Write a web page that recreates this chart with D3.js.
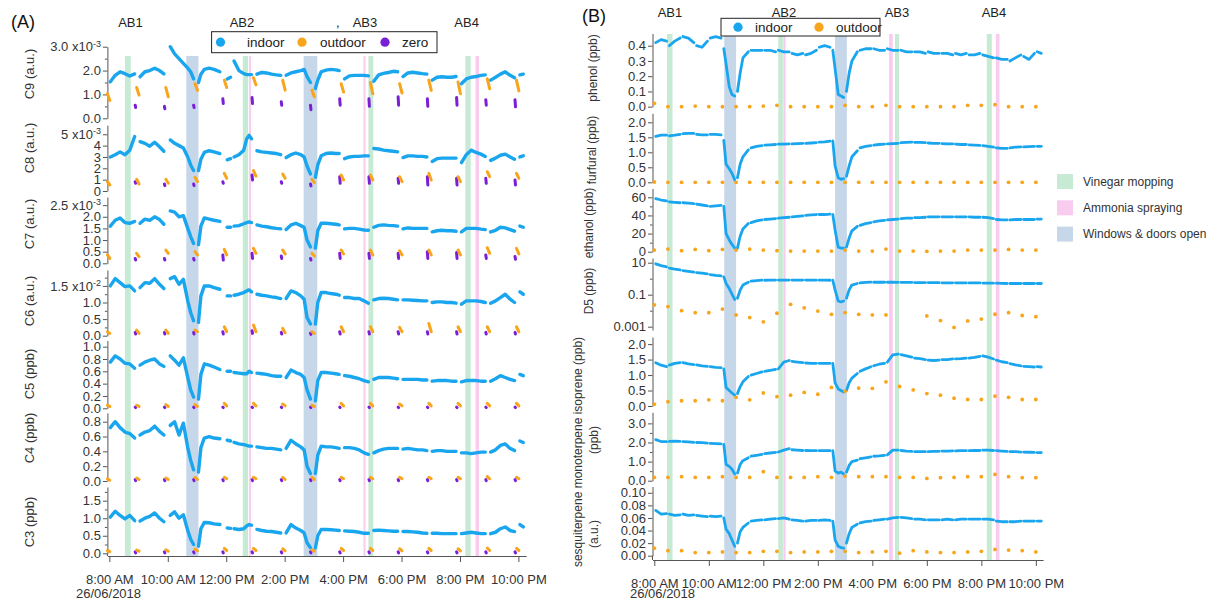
<!DOCTYPE html>
<html>
<head>
<meta charset="utf-8">
<script src="https://cdn.jsdelivr.net/npm/d3@7"></script>
<style>
body { margin: 0; background: #fff; }
text { font-family: "Liberation Sans", Arial, sans-serif; }
</style>
</head>
<body>
<script>
// ---------- data : panel (A) ----------
const timesA = [
  ["8:02","8:12","8:22","8:32","8:42","8:52"],
  ["9:03","9:13","9:23","9:33","9:43","9:52"],
  ["10:05","10:14","10:23","10:32","10:41","10:47","10:53"],
  ["11:03","11:08","11:15","11:25","11:35","11:47"],
  ["12:02","12:09"],
  ["12:16","12:26","12:36","12:42","12:47","12:52"],
  ["13:03","13:13","13:23","13:33","13:43","13:52"],
  ["14:03","14:13","14:23","14:33","14:40","14:46","14:53"],
  ["15:03","15:08","15:15","15:25","15:35","15:45","15:52"],
  ["16:03","16:13","16:23","16:33","16:43","16:52"],
  ["17:03","17:13","17:23","17:33","17:43","17:52"],
  ["18:03","18:13","18:23","18:33","18:43","18:52"],
  ["19:03","19:13","19:23","19:33","19:43","19:52"],
  ["20:03","20:13","20:23","20:33","20:43","20:52"],
  ["21:03","21:13","21:23","21:33","21:43","21:52"],
  ["22:03","22:10"]
]
const outTimesA = [["7:56","8:01"],["8:56","9:01"],["9:56","10:01"],["10:56","11:01"],["11:56","12:01"],
  ["12:56","13:01"],["13:56","14:01"],["14:56","15:01"],["15:56","16:01"],["16:56","17:01"],
  ["17:56","18:01"],["18:56","19:01"],["19:56","20:01"],["20:56","21:01"],["21:56","22:01"]]
const zeroTimesA = [["8:53","8:54"],["9:53","9:54"],["10:53","10:54"],["11:53","11:54"],["12:53","12:54"],
  ["13:53","13:54"],["14:53","14:54"],["15:53","15:54"],["16:53","16:54"],["17:53","17:54"],
  ["18:53","18:54"],["19:53","19:54"],["20:53","20:54"],["21:53","21:54"]]

const c9In = [
  [1.53,1.8,1.95,1.87,1.77,1.86],[1.74,1.95,2.0,2.1,2.0,1.86],[3.0,2.7,2.5,2.3,2.1,1.95,1.65],
  [1.5,1.85,2.05,2.1,2.05,1.95],[1.65,1.72],[2.4,2.0,1.87,1.83,1.83,1.83],[1.85,1.92,1.9,1.85,1.82,1.8],
  [1.8,1.9,1.95,2.0,2.05,1.75,1.5],[1.25,1.6,1.95,2.02,2.05,2.03,2.0],[1.65,1.78,1.8,1.8,1.8,1.78],
  [1.55,1.82,1.88,1.92,1.97,1.95],[1.75,1.9,1.93,1.9,1.87,1.85],[1.6,1.72,1.74,1.72,1.72,1.75],
  [1.45,1.65,1.72,1.75,1.8,1.82],[1.6,1.72,1.85,1.95,1.8,1.7],[1.82,1.85]
]
const c9Out = [[1.03,0.75],[1.29,0.97],[1.29,0.9],[1.45,1.17],[1.6,1.29],[1.7,1.4],[1.6,1.18],[1.18,0.9],
  [1.45,1.1],[1.5,1.03],[1.45,1.06],[1.6,1.17],[1.52,1.03],[1.66,1.24],[1.6,1.15]]
const c9Zero = [[0.55,0.45],[0.5,0.4],[0.55,0.45],[0.82,0.62],[0.87,0.62],[0.69,0.55],[0.55,0.36],
  [0.82,0.55],[0.82,0.5],[0.9,0.55],[0.82,0.5],[0.87,0.55],[0.78,0.55],[0.78,0.48]]

const c8In = [
  [3.0,3.2,3.45,3.2,3.6,4.8],[4.35,4.2,3.95,4.3,3.9,3.5],[4.5,4.2,4.0,3.8,3.0,2.3,1.8],
  [1.8,2.8,3.4,3.55,3.45,3.3],[2.75,2.85],[3.0,3.2,3.6,4.6,4.9,4.6],[3.55,3.45,3.4,3.35,3.3,3.2],
  [2.95,3.2,3.35,3.2,3.0,2.2,1.5],[1.2,2.3,3.1,3.3,3.35,3.3,3.3],[2.85,3.0,3.05,3.05,3.1,3.1],
  [3.75,3.7,3.6,3.55,3.5,3.45],[2.95,3.1,3.1,3.05,3.05,3.0],[2.6,2.85,2.9,2.9,2.9,2.9],
  [2.5,3.2,3.6,3.4,3.25,3.05],[2.7,2.9,3.15,3.25,3.0,2.8],[3.0,3.1]
]
const c8Out = [[0.82,0.53],[1.03,0.62],[1.03,0.68],[1.2,0.82],[1.56,1.12],[1.8,1.32],[1.5,1.12],[1.03,0.74],
  [1.41,0.97],[1.41,0.97],[1.26,0.82],[1.56,0.97],[1.26,0.82],[1.7,1.26],[1.56,1.12]]
const c8Zero = [[0.82,0.68],[0.62,0.47],[0.62,0.47],[0.82,0.68],[1.41,0.97],[0.82,0.68],[0.62,0.45],
  [1.26,0.68],[1.26,0.68],[1.12,0.68],[1.26,0.53],[1.12,0.53],[1.12,0.68],[0.97,0.53]]

const c7In = [
  [1.6,1.85,1.95,1.75,1.72,1.8],[1.72,1.9,1.85,2.0,1.88,1.68],[2.25,2.2,2.0,2.05,1.5,1.15,0.85],
  [0.8,1.6,1.95,1.9,1.85,1.8],[1.55,1.55],[1.6,1.62,1.7,1.75,1.78,1.75],[1.65,1.6,1.57,1.53,1.5,1.48],
  [1.45,1.65,1.72,1.62,1.55,1.0,0.7],[0.65,1.4,1.72,1.72,1.7,1.68,1.65],[1.48,1.5,1.5,1.47,1.43,1.42],
  [1.55,1.63,1.65,1.63,1.62,1.6],[1.48,1.52,1.5,1.5,1.5,1.5],[1.35,1.4,1.42,1.4,1.4,1.38],
  [1.35,1.5,1.5,1.5,1.47,1.45],[1.35,1.42,1.55,1.52,1.45,1.38],[1.6,1.55]
]
const c7Out = [[0.36,0.21],[0.43,0.29],[0.57,0.43],[0.5,0.36],[0.6,0.36],[0.64,0.43],[0.57,0.4],[0.43,0.31],
  [0.57,0.4],[0.57,0.36],[0.54,0.36],[0.57,0.36],[0.57,0.36],[0.67,0.43],[0.64,0.4]]
const c7Zero = [[0.21,0.14],[0.21,0.14],[0.21,0.14],[0.36,0.14],[0.43,0.21],[0.31,0.21],[0.21,0.14],
  [0.43,0.21],[0.43,0.21],[0.43,0.21],[0.5,0.21],[0.46,0.21],[0.36,0.21],[0.29,0.17]]

const c6In = [
  [1.5,1.72,1.6,1.48,1.5,1.35],[1.45,1.6,1.58,1.72,1.55,1.42],[1.72,1.78,1.55,1.7,1.05,0.7,0.45],
  [0.4,1.2,1.5,1.5,1.45,1.4],[1.2,1.2],[1.22,1.25,1.3,1.35,1.38,1.32],[1.25,1.22,1.2,1.17,1.15,1.12],
  [1.12,1.35,1.3,1.2,1.1,0.55,0.35],[0.35,1.0,1.3,1.3,1.27,1.25,1.22],[1.15,1.15,1.12,1.12,1.05,0.98],
  [1.08,1.12,1.13,1.12,1.1,1.08],[1.08,1.08,1.07,1.06,1.05,1.05],[1.0,1.02,1.02,1.0,1.0,0.98],
  [0.95,1.05,1.05,1.05,1.03,1.0],[0.98,1.05,1.15,1.25,1.1,1.0],[1.32,1.25]
]
const c6Out = [[0.12,0.07],[0.17,0.07],[0.17,0.07],[0.17,0.12],[0.27,0.12],[0.32,0.12],[0.22,0.09],[0.12,0.07],
  [0.27,0.12],[0.27,0.12],[0.25,0.12],[0.37,0.12],[0.27,0.12],[0.27,0.12],[0.27,0.12]]
const c6Zero = [[0.1,0.05],[0.1,0.05],[0.1,0.05],[0.12,0.05],[0.15,0.07],[0.1,0.05],[0.08,0.04],
  [0.12,0.05],[0.12,0.05],[0.12,0.05],[0.12,0.05],[0.12,0.05],[0.1,0.05],[0.1,0.05]]

const c5In = [
  [0.75,0.85,0.8,0.73,0.72,0.65],[0.7,0.75,0.78,0.8,0.72,0.68],[0.85,0.78,0.7,0.82,0.5,0.3,0.18],
  [0.15,0.55,0.72,0.7,0.67,0.63],[0.6,0.6],[0.58,0.57,0.56,0.56,0.6,0.58],[0.57,0.56,0.55,0.53,0.52,0.52],
  [0.5,0.62,0.58,0.55,0.5,0.3,0.15],[0.12,0.45,0.58,0.58,0.57,0.56,0.55],[0.53,0.52,0.5,0.48,0.45,0.43],
  [0.47,0.5,0.5,0.5,0.49,0.48],[0.47,0.47,0.47,0.47,0.46,0.46],[0.44,0.45,0.45,0.45,0.44,0.44],
  [0.43,0.45,0.45,0.45,0.44,0.44],[0.44,0.48,0.53,0.5,0.47,0.45],[0.55,0.53]
]
const c5Out = [[0.05,0.03],[0.05,0.03],[0.06,0.03],[0.06,0.03],[0.08,0.04],[0.08,0.04],[0.07,0.04],[0.05,0.03],
  [0.08,0.04],[0.08,0.04],[0.07,0.04],[0.08,0.04],[0.08,0.04],[0.08,0.04],[0.08,0.04]]
const c5Zero = [[0.02,0.01],[0.02,0.01],[0.02,0.01],[0.02,0.01],[0.02,0.01],[0.02,0.01],[0.02,0.01],
  [0.02,0.01],[0.02,0.01],[0.02,0.01],[0.02,0.01],[0.02,0.01],[0.02,0.01],[0.02,0.01]]

const c4In = [
  [0.72,0.8,0.72,0.66,0.64,0.58],[0.62,0.66,0.68,0.74,0.67,0.62],[0.75,0.8,0.62,0.78,0.45,0.28,0.15],
  [0.12,0.45,0.58,0.6,0.58,0.57],[0.55,0.54],[0.52,0.5,0.49,0.48,0.47,0.47],[0.46,0.45,0.44,0.44,0.43,0.42],
  [0.44,0.55,0.5,0.46,0.42,0.2,0.1],[0.1,0.35,0.47,0.46,0.46,0.45,0.44],[0.45,0.45,0.44,0.42,0.38,0.36],
  [0.38,0.41,0.43,0.44,0.44,0.44],[0.43,0.44,0.43,0.42,0.42,0.41],[0.4,0.41,0.41,0.4,0.4,0.4],
  [0.38,0.38,0.37,0.38,0.39,0.39],[0.39,0.42,0.48,0.5,0.44,0.41],[0.54,0.52]
]
const c4Out = [[0.03,0.01],[0.04,0.02],[0.04,0.02],[0.05,0.02],[0.05,0.03],[0.05,0.03],[0.05,0.02],[0.05,0.02],
  [0.05,0.03],[0.05,0.03],[0.05,0.03],[0.05,0.03],[0.05,0.03],[0.06,0.03],[0.05,0.03]]
const c4Zero = [[0.02,0.005],[0.02,0.005],[0.02,0.005],[0.02,0.005],[0.02,0.005],[0.02,0.005],[0.02,0.005],
  [0.02,0.005],[0.02,0.005],[0.02,0.005],[0.02,0.005],[0.02,0.005],[0.02,0.005],[0.02,0.005]]

const c3In = [
  [1.03,1.2,1.08,0.98,1.08,0.93],[0.92,1.0,1.05,1.15,1.0,0.9],[1.08,1.18,1.0,1.1,0.65,0.4,0.25],
  [0.2,0.7,0.88,0.87,0.84,0.82],[0.72,0.71],[0.7,0.68,0.7,0.78,0.82,0.8],[0.68,0.65,0.63,0.62,0.6,0.58],
  [0.58,0.82,0.72,0.65,0.58,0.3,0.16],[0.15,0.5,0.68,0.68,0.67,0.66,0.65],[0.64,0.63,0.62,0.6,0.57,0.57],
  [0.65,0.66,0.65,0.64,0.63,0.63],[0.62,0.62,0.61,0.6,0.58,0.57],[0.57,0.57,0.56,0.56,0.56,0.56],
  [0.56,0.58,0.6,0.58,0.56,0.56],[0.56,0.6,0.7,0.75,0.65,0.62],[0.82,0.75]
]
const c3Out = [[0.08,0.05],[0.09,0.06],[0.1,0.06],[0.12,0.07],[0.14,0.08],[0.14,0.08],[0.13,0.07],[0.1,0.06],
  [0.14,0.08],[0.14,0.08],[0.13,0.07],[0.14,0.08],[0.13,0.07],[0.15,0.08],[0.14,0.08]]
const c3Zero = [[0.04,0.01],[0.04,0.01],[0.04,0.01],[0.04,0.01],[0.04,0.01],[0.04,0.01],[0.04,0.01],
  [0.04,0.01],[0.04,0.01],[0.04,0.01],[0.04,0.01],[0.04,0.01],[0.04,0.01],[0.04,0.01]]

// ---------- data : panel (B) ----------
const timesB = [
  ["8:03","8:15","8:27"],["8:33","8:45","8:57"],
  ["9:03","9:15","9:27"],["9:33","9:45","9:57"],
  ["10:03","10:15","10:27"],["10:33","10:38","10:45","10:51","10:57"],
  ["11:03","11:09","11:15","11:27"],["11:33","11:45","11:57"],
  ["12:03","12:15","12:27"],["12:33","12:45","12:57"],
  ["13:03","13:15","13:27"],["13:33","13:45","13:57"],
  ["14:03","14:15","14:27"],["14:33","14:38","14:45","14:51","14:57"],
  ["15:03","15:09","15:15","15:27"],["15:33","15:45","15:57"],
  ["16:03","16:15","16:27"],["16:33","16:45","16:57"],
  ["17:03","17:15","17:27"],["17:33","17:45","17:57"],
  ["18:03","18:15","18:27"],["18:33","18:45","18:57"],
  ["19:03","19:15","19:27"],["19:33","19:45","19:57"],
  ["20:03","20:15","20:27"],["20:33","20:45","20:57"],
  ["21:03","21:15","21:27"],["21:33","21:45","21:57"],
  ["22:03","22:12"]
]
const outTimesB = ["8:00","8:30","9:00","9:30","10:00","10:30","11:00","11:30","12:00","12:30","13:00","13:30",
  "14:00","14:30","15:00","15:30","16:00","16:30","17:00","17:30","18:00","18:30","19:00","19:30",
  "20:00","20:30","21:00","21:30","22:00"]

const phenolIn = [
  [0.42,0.44,0.43],[0.40,0.43,0.45],[0.46,0.45,0.42],[0.40,0.39,0.43],
  [0.45,0.46,0.45],[0.38,0.28,0.13,0.08,0.07],[0.10,0.22,0.32,0.36],[0.37,0.37,0.37],
  [0.37,0.37,0.36],[0.37,0.36,0.36],[0.35,0.34,0.35],[0.34,0.35,0.37],
  [0.39,0.40,0.39],[0.37,0.25,0.08,0.07,0.06],[0.10,0.22,0.30,0.36],[0.37,0.38,0.38],
  [0.38,0.37,0.37],[0.38,0.37,0.37],[0.37,0.36,0.36],[0.36,0.36,0.35],
  [0.36,0.35,0.35],[0.35,0.35,0.34],[0.35,0.34,0.35],[0.34,0.34,0.35],
  [0.34,0.33,0.32],[0.32,0.31,0.31],[0.30,0.32,0.34],[0.33,0.31,0.35],[0.36,0.35]
]
const phenolOut = [0.022,0,0,0.004,0,0,0,0,0.004,0.009,0,0,0,0,0.009,0,0,0.009,0,0,0,0,0,0.009,0.009,0.013,0,0,0]

const furfuralIn = [
  [1.53,1.57,1.57],[1.55,1.57,1.6],[1.62,1.63,1.63],[1.6,1.58,1.58],
  [1.6,1.6,1.58],[1.4,0.6,0.45,0.3,0.08],[0.15,0.6,0.85,1.08],[1.15,1.2,1.22],
  [1.24,1.25,1.26],[1.27,1.27,1.28],[1.28,1.29,1.3],[1.3,1.31,1.32],
  [1.34,1.35,1.37],[1.38,0.55,0.15,0.1,0.12],[0.2,0.55,0.85,1.05],[1.15,1.2,1.22],
  [1.24,1.26,1.27],[1.28,1.29,1.3],[1.32,1.33,1.34],[1.33,1.33,1.32],
  [1.31,1.3,1.3],[1.29,1.28,1.28],[1.27,1.26,1.26],[1.25,1.24,1.23],
  [1.22,1.2,1.17],[1.15,1.13,1.13],[1.15,1.17,1.18],[1.18,1.19,1.2],[1.2,1.2]
]
const furfuralOut = [0.01,0,0,0,0,0,0,0,0,0,0,0,0,0,0,0,0,0,0,0,0,0,0,0,0,0,0,0,0]

const ethanolIn = [
  [58.5,57,56],[55,54.5,54],[54,53.5,53],[52.5,51.5,50.5],
  [50,50.5,51],[50,20,13,8,4],[4,17,25,31],[32,34,35],
  [35.5,36,36.5],[37,37.5,38],[38.5,39,39.5],[40,40.5,41],
  [41,41,41.5],[41,24,5,4,4],[5,15,23,28],[29,31,32],
  [33,34,34.5],[35,35.5,36],[36.5,37,37],[37.5,37.5,38],
  [38.5,38.5,38.5],[38.5,38.5,38.5],[38.5,38.5,38.5],[38.5,38,38],
  [38,37.5,36.5],[35.5,35,35],[35,35.5,35.5],[35.5,35.5,35.5],[36,36]
]
const ethanolOut = [1.8,2.9,1.1,2.5,1.1,2.5,1.8,2.9,1.8,1.1,0.7,0.7,0.7,0.7,1.8,0.7,0.7,2.9,0.7,0.7,0.4,0.7,0.7,1.8,1.8,1.8,2.5,1.8,1.8]

const d5In = [
  [8.5,6.5,5.5],[4.6,4.0,3.5],[3.2,2.9,2.6],[2.4,2.2,2.0],
  [1.8,1.6,1.5],[1.3,0.5,0.24,0.11,0.05],[0.06,0.19,0.4,0.6],[0.7,0.76,0.8],
  [0.8,0.81,0.82],[0.82,0.82,0.82],[0.82,0.82,0.82],[0.82,0.81,0.81],
  [0.81,0.81,0.8],[0.8,0.2,0.04,0.035,0.04],[0.06,0.2,0.4,0.5],[0.55,0.58,0.6],
  [0.6,0.6,0.6],[0.6,0.6,0.59],[0.58,0.58,0.58],[0.57,0.57,0.57],
  [0.56,0.56,0.56],[0.55,0.55,0.55],[0.55,0.55,0.54],[0.54,0.54,0.54],
  [0.53,0.53,0.52],[0.52,0.51,0.5],[0.5,0.5,0.5],[0.5,0.5,0.5],[0.5,0.5]
]
const d5Out = [0.023,0.018,0.01,0.0075,0.0075,0.0126,0.0054,0.0037,0.002,0.0069,0.025,0.015,0.0095,0.0059,
  0.0075,0.0059,0.0054,0.0054,null,null,0.0047,0.0024,0.0009,0.0023,0.003,0.006,0.0075,0.005,0.0042]

const isopreneIn = [
  [1.4,1.32,1.27],[1.32,1.38,1.4],[1.4,1.36,1.34],[1.33,1.3,1.28],
  [1.27,1.25,1.24],[1.2,0.6,0.5,0.42,0.35],[0.4,0.62,0.78,0.95],[1.0,1.05,1.1],
  [1.12,1.15,1.18],[1.2,1.42,1.47],[1.44,1.42,1.4],[1.39,1.38,1.38],
  [1.38,1.38,1.38],[1.38,0.75,0.55,0.5,0.45],[0.5,0.75,0.9,1.05],[1.12,1.2,1.27],
  [1.3,1.35,1.38],[1.42,1.65,1.68],[1.66,1.62,1.58],[1.55,1.53,1.5],
  [1.48,1.47,1.48],[1.5,1.5,1.52],[1.52,1.53,1.55],[1.55,1.57,1.6],
  [1.62,1.58,1.52],[1.48,1.43,1.4],[1.37,1.33,1.3],[1.28,1.27,1.26],[1.27,1.26]
]
const isopreneOut = [0.06,0.14,0.17,0.17,0.2,0.17,0.28,0.2,0.42,0.3,0.35,0.44,0.38,0.6,0.48,0.58,0.57,0.78,
  0.63,0.52,0.4,0.35,0.25,0.21,0.21,0.32,0.28,0.21,0.21]

const monoIn = [
  [2.15,2.05,2.04],[2.06,2.07,2.06],[2.05,2.03,2.01],[2.0,1.99,1.97],
  [1.95,1.94,1.93],[1.9,0.85,0.75,0.6,0.35],[0.4,0.85,1.05,1.2],[1.28,1.33,1.38],
  [1.42,1.45,1.48],[1.5,1.6,1.68],[1.62,1.6,1.58],[1.58,1.57,1.57],
  [1.57,1.57,1.57],[1.57,0.5,0.4,0.45,0.35],[0.45,0.8,1.0,1.08],[1.15,1.2,1.25],
  [1.28,1.3,1.33],[1.35,1.6,1.6],[1.58,1.55,1.53],[1.52,1.52,1.52],
  [1.52,1.53,1.54],[1.55,1.55,1.56],[1.56,1.57,1.57],[1.57,1.58,1.58],
  [1.6,1.6,1.58],[1.57,1.55,1.53],[1.52,1.52,1.5],[1.5,1.49,1.48],[1.47,1.47]
]
const monoOut = [0.17,0.17,0.21,0.17,0.17,0.21,0.17,0.17,0.47,0.17,0.17,0.17,0.21,0.17,0.24,0.21,0.21,0.21,
  0.17,0.17,0.12,0.16,0.17,0.21,0.21,0.33,0.21,0.16,0.16]

const sesquiIn = [
  [0.072,0.066,0.067],[0.066,0.064,0.065],[0.066,0.064,0.065],[0.064,0.063,0.062],
  [0.063,0.062,0.063],[0.06,0.042,0.035,0.025,0.015],[0.02,0.038,0.045,0.052],[0.055,0.056,0.057],
  [0.057,0.058,0.059],[0.059,0.06,0.058],[0.057,0.056,0.055],[0.055,0.056,0.056],
  [0.056,0.057,0.056],[0.055,0.025,0.015,0.013,0.012],[0.02,0.035,0.045,0.05],[0.052,0.054,0.055],
  [0.056,0.057,0.058],[0.058,0.06,0.061],[0.061,0.06,0.059],[0.058,0.058,0.057],
  [0.057,0.057,0.057],[0.057,0.058,0.057],[0.057,0.058,0.058],[0.058,0.058,0.058],
  [0.058,0.058,0.057],[0.055,0.054,0.054],[0.054,0.054,0.055],[0.055,0.055,0.055],[0.055,0.055]
]
const sesquiOut = [0.012,0.008,0.008,0.005,0.005,0.006,0.005,0.005,0.007,0.007,0.005,0.006,0.006,0.007,0.007,
  0.005,0.006,0.007,0.004,0.008,0.006,0.005,0.005,0.006,0.007,0.01,0.009,0.008,0.006]

// activity periods
const bandsA = [["vinegar","8:32","8:44"],["windows","10:38","11:03"],["vinegar","12:34","12:45"],["ammonia","12:47","12:51"],
  ["windows","14:39","15:07"],["ammonia","16:42","16:46"],["vinegar","16:52","17:02"],["vinegar","20:11","20:22"],["ammonia","20:32","20:39"]]
const bandsB = [["vinegar","8:28","8:40"],["windows","10:34","11:00"],["vinegar","12:33","12:43"],["ammonia","12:44","12:49"],
  ["windows","14:38","15:04"],["ammonia","16:37","16:45"],["vinegar","16:50","16:59"],["vinegar","20:12","20:23"],["ammonia","20:32","20:40"]]

const xTicks = ["8:00","10:00","12:00","14:00","16:00","18:00","20:00","22:00"]
const abLabels = ["AB1","AB2","AB3","AB4"]
const legendKeys = ["Vinegar mopping","Ammonia spraying","Windows & doors open"]

// ---------- drawing ----------
const COL = { indoor: "#19a6ee", outdoor: "#f8a51c", zero: "#7a1fd6",
  vinegar: "#c6ead3", ammonia: "#f9cbee", windows: "#c7d7ea" }

const T = s => { const p = s.split(":").map(Number); return new Date(2018, 5, 26, p[0], p[1]) }

const svg = d3.select("body").append("svg")
  .attr("width", 1217).attr("height", 602)
  .style("background", "#fff")

const xA = d3.scaleTime().domain([T("7:56"), T("22:16")]).range([107.4, 526.2])
const xB = d3.scaleTime().domain([T("7:56"), T("22:16")]).range([652.5, 1043.1])

const panelsA = [
  { label: "C9 (a.u.)", ly: 74, ind: c9In, out: c9Out, zero: c9Zero, dom: [0, 3.0], rng: [118.3, 46.7],
    ticks: [0, 1, 2, 3], minor: [0.5, 1.5, 2.5], fmt: ".1f", top: "3.0 x10", exp: "-3" },
  { label: "C8 (a.u.)", ly: 148, ind: c8In, out: c8Out, zero: c8Zero, dom: [0, 5.8], rng: [191, 125.2],
    ticks: [0, 1, 2, 3, 4, 5], minor: [], fmt: "d", top: "5 x10", exp: "-3" },
  { label: "C7 (a.u.)", ly: 224, ind: c7In, out: c7Out, zero: c7Zero, dom: [0, 2.85], rng: [263.3, 197],
    ticks: [0, 0.5, 1, 1.5, 2, 2.5], minor: [], fmt: ".1f", top: "2.5 x10", exp: "-3" },
  { label: "C6 (a.u.)", ly: 301, ind: c6In, out: c6Out, zero: c6Zero, dom: [0, 1.98], rng: [335.7, 270],
    ticks: [0, 0.5, 1, 1.5], minor: [0.25, 0.75, 1.25, 1.75], fmt: ".1f", top: "1.5 x10", exp: "-2" },
  { label: "C5 (ppb)", ly: 374, ind: c5In, out: c5Out, zero: c5Zero, dom: [0, 1.1], rng: [408.3, 340.5],
    ticks: [0, 0.2, 0.4, 0.6, 0.8, 1.0], minor: [], fmt: ".1f" },
  { label: "C4 (ppb)", ly: 438, ind: c4In, out: c4Out, zero: c4Zero, dom: [0, 0.92], rng: [481, 412.8],
    ticks: [0, 0.2, 0.4, 0.6, 0.8], minor: [], fmt: ".1f" },
  { label: "C3 (ppb)", ly: 522, ind: c3In, out: c3Out, zero: c3Zero, dom: [0, 1.89], rng: [553.3, 487],
    ticks: [0, 0.5, 1, 1.5], minor: [0.25, 0.75, 1.25, 1.75], fmt: ".1f", base: 556 }
]

const panelsB = [
  { ind: phenolIn, out: phenolOut, dom: [0, 0.48], rng: [106.7, 33.5], ticks: [0, 0.1, 0.2, 0.3, 0.4], minor: [], fmt: ".1f" },
  { ind: furfuralIn, out: furfuralOut, dom: [0, 2.3], rng: [182.3, 113.3], ticks: [0, 0.5, 1, 1.5, 2], minor: [], fmt: ".1f" },
  { ind: ethanolIn, out: ethanolOut, dom: [0, 69.7], rng: [251.7, 188.5], ticks: [0, 20, 40, 60], minor: [10, 30, 50], fmt: "d" },
  { ind: d5In, out: d5Out, log: true, dom: [0.00062, 19.6], rng: [330, 258], ticks: [0.001, 0.1, 10], minor: [0.01, 1], fmt: "~g" },
  { ind: isopreneIn, out: isopreneOut, dom: [0, 2.23], rng: [406, 337], ticks: [0, 0.5, 1, 1.5, 2], minor: [], fmt: ".1f" },
  { ind: monoIn, out: monoOut, dom: [0, 3.58], rng: [480.7, 412.3], ticks: [0, 1, 2, 3], minor: [0.5, 1.5, 2.5], fmt: ".1f" },
  { ind: sesquiIn, out: sesquiOut, dom: [0, 0.11], rng: [555.7, 486.5], ticks: [0, 0.02, 0.04, 0.06, 0.08, 0.1], minor: [], fmt: ".2f", base: 560 }
]

function styleAxis(ax) {
  ax.select(".domain").attr("stroke", "#555")
  ax.selectAll(".tick line").attr("stroke", "#555")
  ax.selectAll(".tick text").attr("font-size", 13).attr("fill", "#333")
    .attr("font-family", '"Liberation Sans", Arial, sans-serif')
}

function drawBands(bands, x, y0, y1) {
  svg.append("g").selectAll("rect").data(bands).enter().append("rect")
    .attr("x", d => x(T(d[1])))
    .attr("width", d => x(T(d[2])) - x(T(d[1])))
    .attr("y", y0).attr("height", y1 - y0)
    .attr("fill", d => COL[d[0]])
}

function drawPanel(p, x, times, axisX, sw) {
  const y = (p.log ? d3.scaleLog() : d3.scaleLinear()).domain(p.dom).range(p.rng)
  const g = svg.append("g")

  const ax = g.append("g").attr("transform", `translate(${axisX},0)`)
    .call(d3.axisLeft(y).tickValues(p.ticks).tickSize(4.5).tickPadding(2).tickSizeOuter(0)
      .tickFormat(d3.format(p.fmt)))
  styleAxis(ax)
  if (p.top) {
    const topVal = p.ticks[p.ticks.length - 1]
    ax.selectAll(".tick text").filter(d => d === topVal).text(p.top)
      .append("tspan").attr("dy", "-0.5em").attr("font-size", 9).text(p.exp)
  }
  if (p.minor.length) {
    const mx = g.append("g").attr("transform", `translate(${axisX},0)`)
      .call(d3.axisLeft(y).tickValues(p.minor).tickSize(2.5).tickFormat(""))
    mx.select(".domain").remove()
    mx.selectAll(".tick line").attr("stroke", "#555")
  }
  if (p.base) {
    g.append("line").attr("x1", axisX).attr("x2", axisX)
      .attr("y1", p.rng[0]).attr("y2", p.base).attr("stroke", "#555")
  }

  // indoor
  const line = d3.line().x(d => x(d[0])).y(d => y(d[1]))
  p.ind.forEach((seg, i) => {
    const pts = seg.map((v, j) => [T(times[i][j]), v])
    g.append("path").attr("d", line(pts)).attr("fill", "none")
      .attr("stroke", COL.indoor).attr("stroke-width", sw)
      .attr("stroke-linecap", "round").attr("stroke-linejoin", "round")
  })
  return { g, y }
}

// bands first (behind everything)
drawBands(bandsA, xA, 56, 556)
drawBands(bandsB, xB, 34, 560)

// panel A
panelsA.forEach(p => {
  const { g, y } = drawPanel(p, xA, timesA, 107.4, 3.4)
  const seg = (t, v) => [[xA(T(t[0])), y(v[0])], [xA(T(t[1])), y(v[1])]]
  p.zero.forEach((v, i) => {
    g.append("path").attr("d", d3.line()(seg(zeroTimesA[i], v)))
      .attr("stroke", COL.zero).attr("stroke-width", 3).attr("stroke-linecap", "round").attr("fill", "none")
  })
  p.out.forEach((v, i) => {
    g.append("path").attr("d", d3.line()(seg(outTimesA[i], v)))
      .attr("stroke", COL.outdoor).attr("stroke-width", 3).attr("stroke-linecap", "round").attr("fill", "none")
  })
  svg.append("text").attr("transform", `translate(29,${p.ly}) rotate(-90)`)
    .attr("text-anchor", "middle").attr("dy", "0.35em")
    .attr("font-size", 13).attr("fill", "#333").text(p.label)
})

// panel B
panelsB.forEach(p => {
  const { g, y } = drawPanel(p, xB, timesB, 652.5, 2.8)
  g.selectAll("circle.out").data(p.out.map((v, i) => [outTimesB[i], v]).filter(d => d[1] !== null))
    .enter().append("circle")
    .attr("cx", d => xB(T(d[0]))).attr("cy", d => y(Math.max(d[1], p.log ? 1e-9 : 0)))
    .attr("r", 1.9).attr("fill", COL.outdoor)
})

// x axes
function xAxis(x, yPos) {
  const ax = svg.append("g").attr("transform", `translate(0,${yPos})`)
    .call(d3.axisBottom(x).tickValues(xTicks.map(T)).tickSize(6).tickPadding(13).tickSizeOuter(0)
      .tickFormat(d3.timeFormat("%-I:%M %p")))
  styleAxis(ax)
}
xAxis(xA, 556)
xAxis(xB, 560)
svg.append("text").attr("x", 76).attr("y", 598).attr("font-size", 13).attr("fill", "#333").text("26/06/2018")
svg.append("text").attr("x", 630).attr("y", 598).attr("font-size", 13).attr("fill", "#333").text("26/06/2018")

// right-panel axis titles
const rLabels = [
  ["phenol (ppb)", 593, 68], ["furfural (ppb)", 592, 150], ["ethanol (ppb)", 589, 223], ["D5 (ppb)", 589, 291],
  ["sesquiterpene monoterpene isoprene (ppb)", 578, 452], ["(ppb)", 594, 440], ["(a.u.)", 594, 534]
]
rLabels.forEach(d => {
  svg.append("text").attr("transform", `translate(${d[1]},${d[2]}) rotate(-90)`)
    .attr("text-anchor", "middle").attr("dy", "0.35em")
    .attr("font-size", 12).attr("fill", "#333").text(d[0])
})

// panel letters and activity labels
const sans = '"Open Sans", "Liberation Sans", sans-serif'
svg.append("text").attr("x", 11).attr("y", 28).attr("font-size", 18).attr("font-family", sans).attr("fill", "#111").text("(A)")
svg.append("text").attr("x", 582).attr("y", 22).attr("font-size", 18).attr("font-family", sans).attr("fill", "#111").text("(B)")
const abA = [130.5, 242, 365, 466.6]
const abB = [670, 784, 897, 994]
abLabels.forEach((t, i) => {
  svg.append("text").attr("x", abA[i]).attr("y", 27).attr("text-anchor", "middle")
    .attr("font-size", 13).attr("font-family", sans).attr("fill", "#222").text(t)
  svg.append("text").attr("x", abB[i]).attr("y", 17).attr("text-anchor", "middle")
    .attr("font-size", 13).attr("font-family", sans).attr("fill", "#222").text(t)
})
svg.append("text").attr("x", 336).attr("y", 27).attr("font-size", 13).attr("font-family", sans).attr("fill", "#222").text(",")

// series legends
function seriesLegend(x0, y0, w, h, items) {
  const g = svg.append("g")
  g.append("rect").attr("x", x0).attr("y", y0).attr("width", w).attr("height", h)
    .attr("fill", "#fff").attr("stroke", "#222").attr("stroke-width", 1)
  items.forEach(it => {
    g.append("circle").attr("cx", it[1]).attr("cy", y0 + h / 2).attr("r", 4.6).attr("fill", COL[it[0]])
    g.append("text").attr("x", it[2]).attr("y", y0 + h / 2).attr("dy", "0.35em")
      .attr("font-size", 13.5).attr("fill", "#222").text(it[0])
  })
}
seriesLegend(211.6, 31.7, 225.4, 21, [["indoor", 220.5, 247], ["outdoor", 302, 320], ["zero", 385, 402]])
seriesLegend(721, 18.3, 159, 17.7, [["indoor", 738, 755], ["outdoor", 819, 836]])

// activity legend
const keyCols = ["vinegar", "ammonia", "windows"]
legendKeys.forEach((t, i) => {
  const yy = 174 + i * 26.3
  svg.append("rect").attr("x", 1057).attr("y", yy).attr("width", 16).attr("height", 15).attr("fill", COL[keyCols[i]])
  svg.append("text").attr("x", 1083).attr("y", yy + 7.5).attr("dy", "0.35em")
    .attr("font-size", 12).attr("font-family", sans).attr("fill", "#333").text(t)
})
</script>
</body>
</html>
